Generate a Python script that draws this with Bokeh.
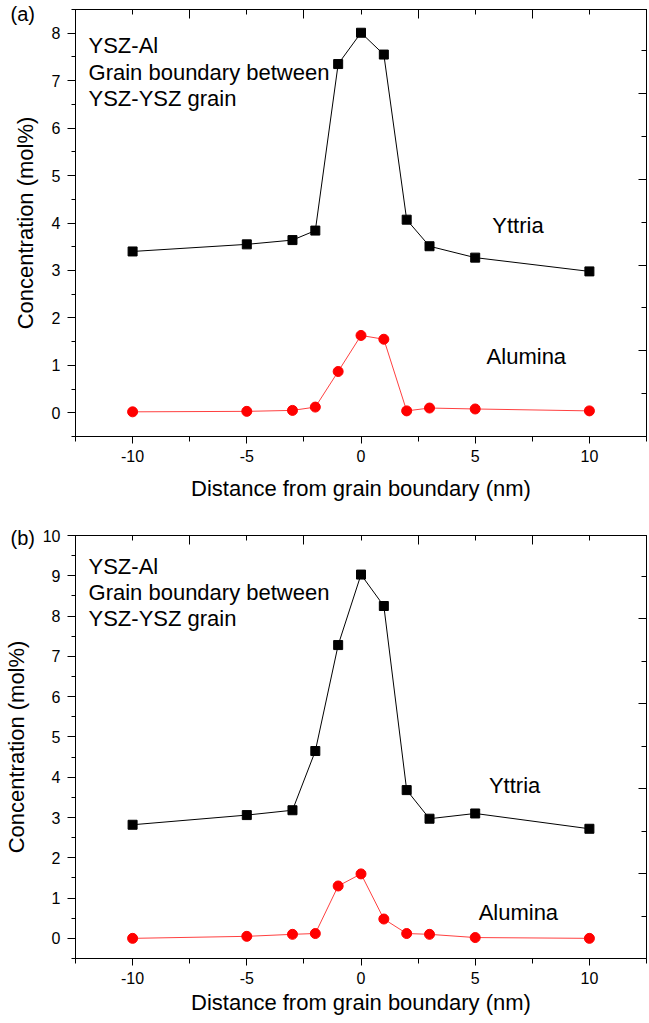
from bokeh.plotting import figure
from bokeh.layouts import column
from bokeh.models import (Range1d, LinearAxis, SingleIntervalTicker, FixedTicker,
                          Label, ColumnDataSource, CustomJSTickFormatter, Title)
from bokeh.embed import file_html
from bokeh.resources import INLINE

# ---------------- data ----------------
distance = [-10, -5, -3, -2, -1, 0, 1, 2, 3, 5, 10]

yttria_a = [3.40, 3.55, 3.64, 3.84, 7.35, 8.01, 7.55, 4.07, 3.51, 3.27, 2.98]
alumina_a = [0.02, 0.03, 0.05, 0.12, 0.87, 1.63, 1.55, 0.04, 0.10, 0.08, 0.04]

yttria_b = [2.82, 3.06, 3.18, 4.65, 7.28, 9.03, 8.25, 3.68, 2.97, 3.10, 2.72]
alumina_b = [0.00, 0.05, 0.10, 0.12, 1.30, 1.60, 0.48, 0.12, 0.10, 0.02, 0.00]

panel_tags = ["(a)", "(b)"]
sample_lines = ["YSZ-Al", "Grain boundary between", "YSZ-YSZ grain"]
series_names = ["Yttria", "Alumina"]
x_title = "Distance from grain boundary (nm)"
y_title = "Concentration (mol%)"

FONT = "Liberation Sans"
NOTE_SIZE = "22px"


def make_panel(tag, yttria, alumina, y_end, height, top_b, bottom_b, right_b,
               xlabel_standoff, tag_standoff, note_y, ytt_pos, alu_pos, right_end):
    p = figure(width=649, height=height, output_backend="svg", toolbar_location=None,
               x_range=Range1d(-12.5, 12.5), y_range=Range1d(-0.5, y_end),
               min_border_left=70, min_border_right=right_b,
               min_border_top=top_b, min_border_bottom=bottom_b)
    p.background_fill_color = "white"
    p.border_fill_color = "white"
    p.outline_line_color = "black"
    p.outline_line_width = 1
    p.grid.visible = False

    plain = CustomJSTickFormatter(code="return tick.toString()")
    empty = CustomJSTickFormatter(code="return ''")

    # bottom axis
    xa = p.xaxis[0]
    xa.ticker = SingleIntervalTicker(interval=5, num_minor_ticks=2)
    xa.formatter = plain
    xa.major_tick_out = 7
    xa.major_tick_in = 0
    xa.minor_tick_out = 5
    xa.minor_tick_in = 0
    xa.major_label_standoff = 6
    xa.axis_label = x_title
    xa.axis_label_standoff = xlabel_standoff
    xa.axis_label_text_font = FONT
    xa.axis_label_text_font_size = "22px"
    xa.axis_label_text_font_style = "normal"
    xa.axis_label_text_color = "black"
    xa.major_label_text_font = FONT
    xa.major_label_text_font_size = "16px"
    xa.major_label_text_color = "black"
    xa.axis_line_color = "black"

    # left axis
    ya = p.yaxis[0]
    ya.ticker = SingleIntervalTicker(interval=1, num_minor_ticks=2)
    ya.formatter = plain
    ya.major_tick_out = 8
    ya.major_tick_in = 0
    ya.minor_tick_out = 4
    ya.minor_tick_in = 0
    ya.major_label_standoff = 7
    ya.axis_label = y_title
    ya.axis_label_standoff = 11
    ya.axis_label_text_font = FONT
    ya.axis_label_text_font_size = "22px"
    ya.axis_label_text_font_style = "normal"
    ya.axis_label_text_color = "black"
    ya.major_label_text_font = FONT
    ya.major_label_text_font_size = "16px"
    ya.major_label_text_color = "black"
    ya.axis_line_color = "black"

    # top axis (ticks inward, offset pattern as in the original)
    ta = LinearAxis(ticker=FixedTicker(ticks=[-7.5, -2.5, 2.5, 7.5],
                                       minor_ticks=[-12.5, -10, -5, 0, 5, 10, 12.5]),
                    formatter=empty)
    ta.major_tick_in = 9
    ta.major_tick_out = 0
    ta.minor_tick_in = 5
    ta.minor_tick_out = 0
    ta.major_label_text_font_size = "0px"
    ta.major_label_standoff = 0
    ta.axis_line_color = "black"
    p.add_layout(ta, "above")

    # right axis (inward ticks on its own scale)
    p.extra_y_ranges = {"r": Range1d(0, right_end)}
    ra = LinearAxis(y_range_name="r",
                    ticker=FixedTicker(ticks=[1, 2, 3, 4],
                                       minor_ticks=[0.5, 1.5, 2.5, 3.5, 4.5]),
                    formatter=empty)
    ra.major_tick_in = 8
    ra.major_tick_out = 0
    ra.minor_tick_in = 5
    ra.minor_tick_out = 0
    ra.major_label_text_font_size = "0px"
    ra.major_label_standoff = 0
    ra.axis_line_color = "black"
    p.add_layout(ra, "right")

    # panel tag placed as a left-aligned title pulled down beside the frame
    p.title = Title(text=tag, align="left", offset=-65, standoff=tag_standoff,
                    text_font=FONT, text_font_size="20px", text_font_style="normal",
                    text_color="black")

    src = ColumnDataSource(dict(x=distance, y=yttria, a=alumina))
    p.line("x", "y", source=src, line_color="black", line_width=1)
    p.scatter("x", "y", source=src, marker="square", size=9,
              fill_color="black", line_color="black")
    p.line("x", "a", source=src, line_color="#ff4040", line_width=1)
    p.scatter("x", "a", source=src, marker="circle", size=10,
              fill_color="#ff0000", line_color="#ff0000")

    for i, line in enumerate(sample_lines):
        p.add_layout(Label(x=-11.93, y=note_y[i], text=line, text_font=FONT,
                           text_font_size=NOTE_SIZE, text_baseline="middle",
                           text_align="left", text_color="black"))
    p.add_layout(Label(x=ytt_pos[0], y=ytt_pos[1], text=series_names[0], text_font=FONT,
                       text_font_size=NOTE_SIZE, text_baseline="middle",
                       text_align="left", text_color="black"))
    p.add_layout(Label(x=alu_pos[0], y=alu_pos[1], text=series_names[1], text_font=FONT,
                       text_font_size=NOTE_SIZE, text_baseline="middle",
                       text_align="left", text_color="black"))
    return p


pa = make_panel(panel_tags[0], yttria_a, alumina_a, 8.5, 506, 9, 70, 1, 11, -30,
                [7.74, 7.17, 6.62], (5.75, 3.95), (5.5, 1.18), 4.98)
pb = make_panel(panel_tags[1], yttria_b, alumina_b, 10.0, 517, 29, 65, 3, 3, -26,
                [9.23, 8.59, 7.94], (5.6, 3.8), (5.15, 0.65), 4.98)

layout = column(pa, pb, spacing=0)
open("out.html", "w").write(file_html(layout, INLINE))
